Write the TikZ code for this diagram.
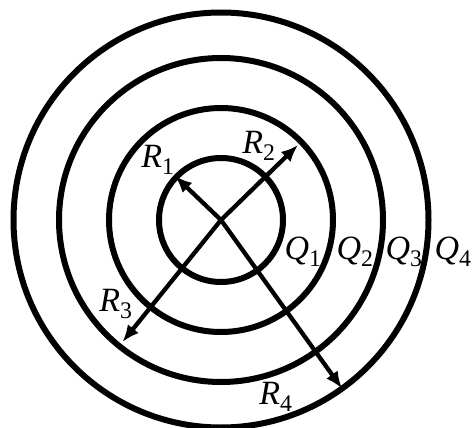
\documentclass[tikz,border=0pt]{standalone}
\usepackage{fontspec}
\setmainfont{Liberation Serif}
\usetikzlibrary{arrows.meta}
\begin{document}
\begin{tikzpicture}[x=1pt,y=-1pt,
  ring/.style={line width=6pt},
  arr/.style={line width=4.3pt,-{Latex[length=17pt,width=14pt]}},
  lbl/.style={inner sep=0pt,font=\fontsize{34}{40}\selectfont}]
\useasboundingbox (0,0) rectangle (474,428);
\begin{scope}
\clip (0,0) rectangle (474,428);
\coordinate (O) at (221,220);
\draw[ring] (O) circle[radius=62];
\draw[ring] (O) circle[radius=112];
\draw[ring] (O) circle[radius=162];
\draw[ring] (O) circle[radius=207.5];
\coordinate (T1) at (175,176);
\coordinate (T2) at (298,145);
\coordinate (T3) at (122.5,342);
\coordinate (T4) at (342,388.5);
\draw[arr] (O) -- (T1);
\draw[arr] (O) -- (T2);
\draw[arr] (O) -- (T3);
\draw[arr] (O) -- (T4);
\end{scope}
\node[lbl] (r1) at (158,160) {\textit{R}\textsubscript{1}};
\node[lbl] (r2) at (259,146) {\textit{R}\textsubscript{2}};
\node[lbl] (r3) at (116,304) {\textit{R}\textsubscript{3}};
\node[lbl] (r4) at (276,397) {\textit{R}\textsubscript{4}};
\node[lbl] (q1) at (303,252) {\textit{Q}\textsubscript{1}};
\node[lbl] (q2) at (355,252) {\textit{Q}\textsubscript{2}};
\node[lbl] (q3) at (404,252) {\textit{Q}\textsubscript{3}};
\node[lbl] (q4) at (453,252) {\textit{Q}\textsubscript{4}};
\end{tikzpicture}
\end{document}
